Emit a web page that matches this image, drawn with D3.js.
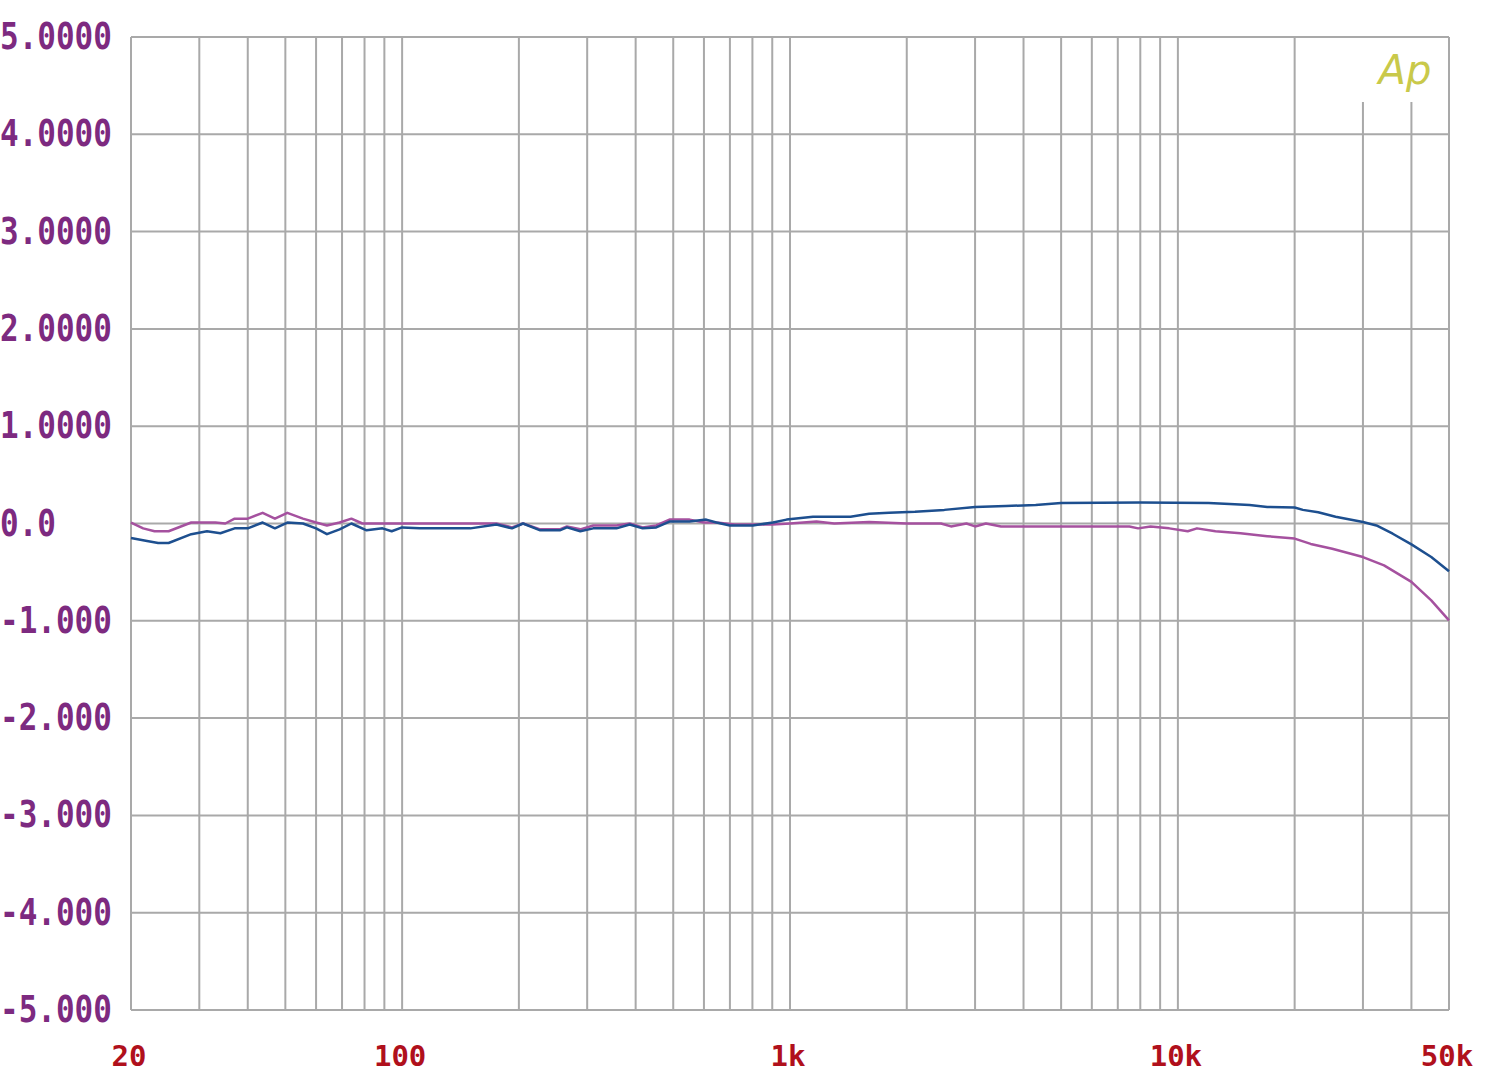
<!DOCTYPE html>
<html><head><meta charset="utf-8">
<script src="https://cdn.jsdelivr.net/npm/d3@7"></script>
<style>html,body{margin:0;padding:0;background:#fff;}svg{display:block;}</style>
</head><body>
<svg id="chart" width="1500" height="1074"></svg>
<script>
// ---- data ----
const yTicks = [5, 4, 3, 2, 1, 0, -1, -2, -3, -4, -5];
const yTickLabels = ["5.0000","4.0000","3.0000","2.0000","1.0000","0.0","-1.000","-2.000","-3.000","-4.000","-5.000"];
const xGridFreqs = [20,30,40,50,60,70,80,90,100,200,300,400,500,600,700,800,900,1000,2000,3000,4000,5000,6000,7000,8000,9000,10000,20000,30000,40000,50000];
const xLabelFreqs = [20, 100, 1000, 10000, 50000];
const xLabelTexts = ["20", "100", "1k", "10k", "50k"];
const shortGridFreqs = [30000, 40000];

const blueFreq = [20,22,23.5,25,28.6,31.4,34,37,40,43.7,47,50.6,55.5,60,64,69,74,81,89,94,100,111,150,175,192,205,227,255,266,288,311,357,386,417,452,489,551,608,646,700,802,904,980,1146,1432,1600,1800,2100,2500,3000,3600,4300,5000,8000,12000,13600,15300,17000,20000,21000,23000,25500,30000,32500,35800,40000,45000,50000];
const blueVal = [-0.15,-0.18,-0.20,-0.20,-0.11,-0.08,-0.10,-0.05,-0.05,0.01,-0.05,0.01,0.0,-0.05,-0.11,-0.06,0.0,-0.07,-0.05,-0.08,-0.04,-0.05,-0.05,-0.01,-0.05,0.0,-0.07,-0.07,-0.04,-0.08,-0.05,-0.05,-0.01,-0.05,-0.04,0.02,0.02,0.04,0.01,-0.02,-0.02,0.01,0.04,0.07,0.07,0.10,0.11,0.12,0.14,0.17,0.18,0.19,0.21,0.215,0.21,0.20,0.19,0.17,0.165,0.14,0.115,0.07,0.015,-0.02,-0.105,-0.215,-0.345,-0.49];

const purpleFreq = [20,21.5,23,25,28.6,33,35,37,40,43.7,47,50.6,55.5,60,64,69,74,79,100,150,175,192,205,227,255,266,288,311,357,386,417,452,489,551,600,646,720,900,1000,1170,1300,1600,2000,2450,2600,2850,3000,3200,3500,7500,7900,8500,9500,10600,11200,12500,14500,17000,20000,22000,25000,30000,34000,40000,45000,50000];
const purpleVal = [0.01,-0.05,-0.08,-0.08,0.01,0.01,0.0,0.05,0.05,0.11,0.05,0.11,0.05,0.01,-0.02,0.01,0.05,0.0,0.0,0.0,0.0,-0.04,0.0,-0.06,-0.06,-0.03,-0.06,-0.02,-0.02,0.0,-0.04,-0.02,0.04,0.04,0.01,0.01,-0.01,-0.01,0.0,0.02,0.0,0.015,0.0,0.0,-0.03,0.0,-0.03,0.0,-0.03,-0.03,-0.05,-0.03,-0.05,-0.08,-0.05,-0.08,-0.10,-0.13,-0.155,-0.21,-0.26,-0.345,-0.43,-0.60,-0.79,-0.995];

// ---- drawing ----
const svg = d3.select("#chart");
const L = 131, R = 1449, T = 37, B = 1010;
const x = d3.scaleLog().domain([20, 50000]).range([L, R]);
const y = d3.scaleLinear().domain([-5, 5]).range([B, T]);
const gridColor = "#a9a9a9";

// horizontal grid
svg.append("g").selectAll("line").data(yTicks).join("line")
  .attr("x1", L).attr("x2", R)
  .attr("y1", d => y(d)).attr("y2", d => y(d))
  .attr("stroke", gridColor).attr("stroke-width", 2);

// vertical grid
svg.append("g").selectAll("line").data(xGridFreqs).join("line")
  .attr("x1", d => x(d)).attr("x2", d => x(d))
  .attr("y1", d => shortGridFreqs.includes(d) ? 102 : T)
  .attr("y2", B)
  .attr("stroke", gridColor).attr("stroke-width", 2);

// logo
svg.append("text").attr("x", 1405).attr("y", 84)
  .attr("text-anchor", "middle")
  .attr("font-family", "DejaVu Sans, sans-serif")
  .attr("font-style", "italic").attr("font-weight", "normal")
  .attr("font-size", 40).attr("fill", "#c9c94a")
  .text("Ap");

// lines
const line = d3.line().x(d => x(d[0])).y(d => y(d[1]));
const purple = purpleFreq.map((f, i) => [f, purpleVal[i]]);
const blue = blueFreq.map((f, i) => [f, blueVal[i]]);
svg.append("path").datum(purple).attr("d", line)
  .attr("fill", "none").attr("stroke", "#a5519f").attr("stroke-width", 2.5)
  .attr("stroke-linejoin", "round");
svg.append("path").datum(blue).attr("d", line)
  .attr("fill", "none").attr("stroke", "#1d4f8f").attr("stroke-width", 2.5)
  .attr("stroke-linejoin", "round");

// y labels
svg.append("g").selectAll("text").data(yTicks).join("text")
  .attr("transform", d => `translate(0,${y(d) + 12}) scale(1,1.18)`)
  .attr("font-family", "DejaVu Sans Mono, monospace")
  .attr("font-weight", "bold")
  .attr("font-size", 31)
  .attr("fill", "#7d2a80")
  .text((d, i) => yTickLabels[i]);

// x labels
svg.append("g").selectAll("text").data(xLabelFreqs).join("text")
  .attr("x", d => x(d) - 2).attr("y", 1066)
  .attr("text-anchor", "middle")
  .attr("font-family", "DejaVu Sans Mono, monospace")
  .attr("font-weight", "bold")
  .attr("font-size", 29)
  .attr("fill", "#b0101c")
  .text((d, i) => xLabelTexts[i]);
</script>
</body></html>
